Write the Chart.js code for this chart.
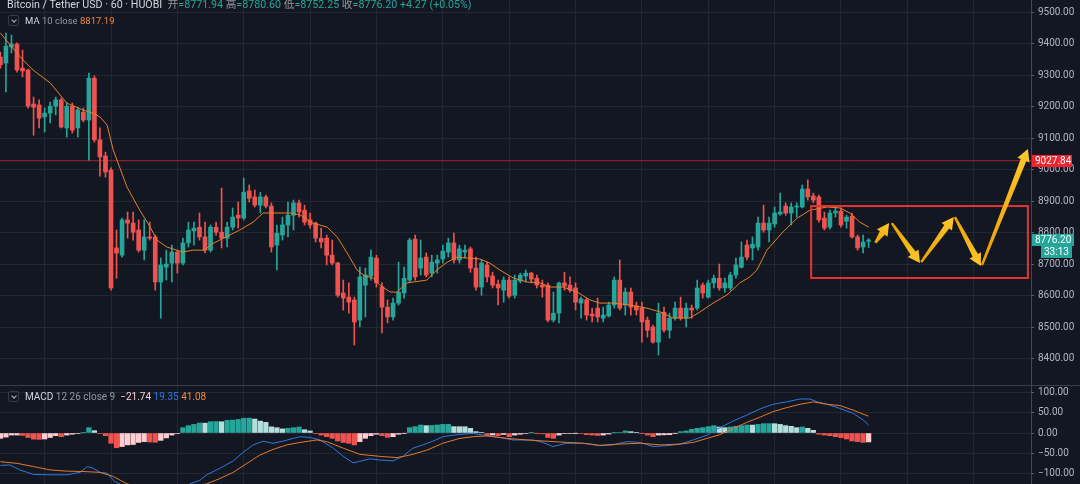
<!DOCTYPE html>
<html>
<head>
<meta charset="utf-8">
<script src="https://cdn.jsdelivr.net/npm/chart.js@4.4.0/dist/chart.umd.min.js"></script>
<style>
  html, body { margin: 0; padding: 0; background: #131722; }
  #wrap { position: relative; width: 1080px; height: 484px; overflow: hidden; background: #131722;
          font-family: Roboto, "Noto Sans", "Noto Sans CJK SC", sans-serif; }
  canvas { position: absolute; left: 0; }
  #main { top: 0; }
  #macd { top: 385px; }
  .row { position: absolute; white-space: nowrap; color: #d1d4dc; }
  .gray { color: #9598a1; }
  .teal { color: #26a69a; }
  .tog { position: absolute; width: 11px; height: 11px; border: 1px solid #363a45; border-radius: 2px; box-sizing: border-box; }
  .tog::after { content: ''; position: absolute; left: 3px; top: 1.5px; width: 3px; height: 3px;
                border-right: 1px solid #b2b5be; border-bottom: 1px solid #b2b5be; transform: rotate(45deg); }
</style>
</head>
<body>
<div id="wrap">
  <canvas id="main" width="1080" height="385"></canvas>
  <canvas id="macd" width="1080" height="99"></canvas>

  <div class="row" style="left:7px; top:-2px; font-size:10.7px; line-height:13px;">
    Bitcoin / Tether USD · 60 · HUOBI
    <span class="gray">&nbsp;开</span><span class="teal">=8771.94</span>
    <span class="gray">高</span><span class="teal">=8780.60</span>
    <span class="gray">低</span><span class="teal">=8752.25</span>
    <span class="gray">收</span><span class="teal">=8776.20 +4.27 (+0.05%)</span>
  </div>

  <div class="tog" style="left:8px; top:15px;"></div>
  <div class="row" style="left:25px; top:15px; font-size:9.5px; line-height:12px;">
    MA <span class="gray">10 close</span> <span style="color:#f0883e;">8817.19</span>
  </div>

  <div class="tog" style="left:8px; top:391px;"></div>
  <div class="row" style="left:25px; top:391px; font-size:10px; line-height:12px;">
    MACD <span class="gray">12 26 close 9</span>
    <span style="color:#ffcdd2;">&nbsp;−21.74</span>
    <span style="color:#2e79e0;">19.35</span>
    <span style="color:#f0883e;">41.08</span>
  </div>
</div>

<script>
// Bitcoin / Tether USD, 1h candles, HUOBI

const opens = [
    9357, 9338, 9389, 9398, 9322, 9316, 9208, 9205, 9167, 9179,
    9201, 9221, 9132, 9201, 9132, 9182, 9157, 9290, 9094, 9043,
    8998, 8751, 8728, 8840, 8830, 8808, 8744, 8786, 8786, 8643,
    8690, 8703, 8738, 8703, 8767, 8805, 8817, 8786, 8744, 8817,
    8801, 8782, 8817, 8855, 8846, 8932, 8913, 8887, 8913, 8884,
    8760, 8792, 8824, 8855, 8894, 8871, 8840, 8830, 8782, 8782,
    8728, 8703, 8608, 8595, 8586, 8522, 8633, 8662, 8719, 8627,
    8563, 8532, 8576, 8608, 8649, 8779, 8687, 8722, 8671, 8703,
    8716, 8738, 8767, 8713, 8738, 8748, 8687, 8627, 8697, 8662,
    8636, 8617, 8649, 8601, 8646, 8662, 8671, 8655, 8633, 8633,
    8522, 8544, 8640, 8633, 8624, 8576, 8586, 8541, 8560, 8528,
    8535, 8570, 8649, 8570, 8611, 8567, 8560, 8522, 8500, 8452,
    8547, 8490, 8528, 8560, 8528, 8560, 8560, 8633, 8595, 8640,
    8655, 8624, 8624, 8665, 8690, 8760, 8751, 8754, 8830, 8808,
    8827, 8859, 8884, 8862, 8881, 8881, 8938, 8916, 8913, 8846,
    8817, 8862, 8868, 8836, 8852, 8786, 8754, 8771.94
];
const highs = [
    9373, 9433, 9427, 9402, 9379, 9319, 9230, 9221, 9195, 9214,
    9230, 9227, 9211, 9211, 9198, 9195, 9306, 9297, 9132, 9055,
    9005, 8808, 8846, 8865, 8865, 8840, 8840, 8833, 8792, 8719,
    8744, 8760, 8744, 8782, 8833, 8833, 8862, 8833, 8824, 8833,
    8941, 8833, 8878, 8897, 8973, 8951, 8935, 8928, 8919, 8894,
    8824, 8849, 8897, 8903, 8903, 8887, 8862, 8833, 8814, 8792,
    8776, 8706, 8649, 8640, 8595, 8690, 8687, 8744, 8728, 8640,
    8586, 8592, 8706, 8690, 8782, 8792, 8776, 8735, 8728, 8728,
    8760, 8782, 8798, 8760, 8760, 8754, 8722, 8713, 8706, 8674,
    8649, 8659, 8659, 8665, 8671, 8681, 8674, 8665, 8649, 8640,
    8611, 8643, 8674, 8659, 8640, 8595, 8592, 8560, 8592, 8563,
    8579, 8659, 8713, 8624, 8624, 8579, 8579, 8532, 8506, 8576,
    8563, 8544, 8579, 8595, 8576, 8570, 8649, 8640, 8649, 8665,
    8700, 8655, 8674, 8719, 8770, 8776, 8786, 8849, 8887, 8849,
    8881, 8925, 8894, 8894, 8894, 8951, 8967, 8925, 8919, 8865,
    8871, 8881, 8878, 8855, 8862, 8792, 8792, 8780.60
];
const lows = [
    9322, 9246, 9370, 9309, 9294, 9195, 9109, 9132, 9119, 9148,
    9173, 9132, 9103, 9116, 9103, 9151, 9030, 9087, 8979, 8976,
    8617, 8655, 8722, 8782, 8776, 8738, 8713, 8776, 8617, 8528,
    8649, 8643, 8671, 8697, 8754, 8760, 8776, 8735, 8738, 8792,
    8751, 8754, 8808, 8814, 8840, 8897, 8881, 8862, 8878, 8738,
    8681, 8776, 8786, 8808, 8849, 8824, 8814, 8770, 8751, 8697,
    8697, 8595, 8554, 8544, 8443, 8500, 8532, 8649, 8627, 8481,
    8513, 8522, 8570, 8592, 8643, 8649, 8665, 8659, 8659, 8671,
    8703, 8722, 8703, 8703, 8719, 8674, 8617, 8601, 8643, 8624,
    8570, 8579, 8592, 8592, 8640, 8643, 8640, 8624, 8595, 8516,
    8516, 8513, 8617, 8611, 8554, 8528, 8522, 8516, 8516, 8516,
    8532, 8560, 8554, 8538, 8538, 8538, 8452, 8468, 8449, 8411,
    8484, 8465, 8522, 8522, 8500, 8528, 8554, 8592, 8592, 8624,
    8617, 8611, 8617, 8655, 8687, 8713, 8713, 8744, 8801, 8770,
    8817, 8855, 8855, 8824, 8849, 8878, 8903, 8894, 8833, 8808,
    8811, 8849, 8817, 8814, 8782, 8744, 8735, 8752.25
];
const closes = [
    9332, 9392, 9398, 9316, 9313, 9201, 9198, 9163, 9179, 9201,
    9221, 9135, 9201, 9125, 9189, 9157, 9290, 9094, 9040, 8992,
    8624, 8735, 8840, 8830, 8801, 8744, 8786, 8782, 8643, 8697,
    8700, 8738, 8703, 8767, 8808, 8814, 8786, 8744, 8817, 8801,
    8782, 8817, 8849, 8846, 8928, 8909, 8887, 8913, 8884, 8754,
    8798, 8824, 8855, 8894, 8865, 8833, 8824, 8782, 8770, 8728,
    8703, 8601, 8592, 8579, 8516, 8659, 8665, 8722, 8640, 8563,
    8532, 8576, 8611, 8655, 8776, 8659, 8719, 8665, 8706, 8713,
    8741, 8767, 8713, 8748, 8744, 8687, 8627, 8703, 8659, 8633,
    8624, 8649, 8598, 8649, 8665, 8671, 8652, 8633, 8627, 8522,
    8544, 8640, 8630, 8617, 8579, 8589, 8538, 8535, 8532, 8538,
    8570, 8649, 8560, 8611, 8563, 8554, 8516, 8490, 8452, 8544,
    8490, 8528, 8560, 8528, 8560, 8554, 8624, 8608, 8640, 8655,
    8624, 8640, 8665, 8697, 8722, 8722, 8763, 8830, 8808, 8830,
    8862, 8865, 8862, 8881, 8884, 8938, 8913, 8903, 8840, 8814,
    8862, 8868, 8824, 8849, 8786, 8751, 8770, 8776.20
];

// MA 10 close (bar index, value)
const maIdx = [0, 3.6, 5.9, 9, 12, 14.9, 16.7, 18, 19.3, 20.4, 22.9, 25.2, 27.1, 28.3, 30.1, 31.9, 33,
    34.8, 37, 37.9, 40.3, 43.3, 45.7, 47.5, 48.8, 52.4, 54.2, 56.5, 59.1, 60.9, 62.7, 64.5, 65.9, 67.4,
    68.6, 70.5, 71.7, 73.5, 75.9, 77.1, 78.9, 80.8, 82.6, 84.4, 86.7, 88.5, 90.3, 92.7, 95.2, 97.6, 99.4,
    101.7, 104.3, 106.6, 108.4, 110.8, 113.8, 116.9, 119.3, 121.6, 124.7, 126.5, 128.9, 131.4, 133.7,
    135.5, 136.8, 138.6, 141.5, 144.1, 146.4, 149.5, 151.8, 153.6, 155.4, 157];
const maVal = [9433, 9357, 9316, 9275, 9211, 9189, 9179, 9167, 9141, 9062, 8944, 8871, 8817, 8776, 8754, 8744, 8738,
    8744, 8744, 8760, 8782, 8808, 8833, 8862, 8862, 8862, 8856, 8830, 8817, 8786, 8735, 8681, 8662, 8656,
    8633, 8611, 8611, 8640, 8646, 8649, 8681, 8706, 8722, 8719, 8716, 8703, 8681, 8656, 8643, 8640, 8627,
    8627, 8611, 8586, 8576, 8576, 8570, 8560, 8548, 8529, 8529, 8548, 8576, 8602, 8640,
    8659, 8681, 8744, 8802, 8846, 8871, 8881, 8878, 8862, 8833, 8817.19];

// MACD 12 26 close 9
const histVals = [
    -13, -10, -5, -5, -6, -11, -15, -15.5, -14.6, -11,
    -6.5, -9, -5, -3, -1.5, 0.5, 13, 5.7, -1, -6.5,
    -25, -36, -33, -29, -28, -23, -21, -22, -22.5, -18,
    -12, -5, -1.5, 13, 18, 21, 24.4, 24, 27.6, 28,
    27.5, 31, 31.5, 33, 36, 36.2, 34, 29, 26, 15,
    13, 10, 11.5, 13, 14.6, 8, 5, -1.5, -5, -9,
    -13, -19.5, -23, -25, -29, -21, -13, -6.5, -3, -6.5,
    -10.5, -9, -3, -0.5, 13, 15.5, 19.5, 18, 18.2, 19.5,
    21, 21.2, 15.5, 15.4, 15.3, 11.4, 3.3, 1.5, -6, -5,
    -6.5, -3.5, -9, -5, -3, -1, 0.5, -0.5, -2, -11,
    -13, -5, -1.5, -1, -0.5, -1, -4, -5, -6, -5,
    -2.5, 0.5, 1, 5, 3.3, 1.6, -0.5, -5, -9, -5,
    -4.5, -4, -0.5, 3.3, 5, 9, 11.4, 13, 15.5, 18,
    14.6, 13, 14.7, 16.3, 18, 19.5, 19.3, 21, 22.8, 22.9,
    22.7, 21, 18, 16.3, 13, 14.6, 11.4, 6.5, -3, -5,
    -6.5, -9, -11.4, -14.6, -19.5, -21, -22.8, -21.74
];
const macdIdx = [0, 1.7, 3.5, 6, 9, 12, 14.4, 15.7, 16.8, 18, 19.3, 20.7, 21.6, 24, 28, 32, 34.3, 36.1, 37.3,
    39.7, 42.1, 44, 45.7, 47.5, 49.3, 51.1, 53, 54.2, 56, 57.8, 60.2, 62, 63.8, 65, 66.8, 68.6, 71, 72.8,
    74.6, 76.4, 78.2, 80, 82.6, 85.5, 88, 90.3, 92.7, 96.3, 98.1, 99.9, 102.4, 105.4, 108.4, 110.8, 113.3,
    115.7, 118, 120.5, 122.9, 125.3, 127.8, 130.1, 132.5, 135, 137.4, 139.7, 142.2, 144.6, 146.4, 147.7,
    149.5, 151.8, 154.2, 156, 157];
const macdVal = [-79, -78, -90, -101, -102, -102, -96, -82, -86, -96, -98, -119, -124, -145, -158, -140, -124, -115, -102,
    -86, -68, -46, -29, -20, -25, -20, -13, -9, -11, -17, -37, -57, -73, -69, -63, -66, -68, -57,
    -37, -29, -20, -9, -4, -1, -7, -11, -17, -17, -23, -33, -25, -25, -31, -29, -21,
    -23, -33, -31, -27, -17, -5, 13, 29, 44, 59, 70, 76, 83, 83, 76,
    70, 60, 48, 32, 19.35];
const signalIdx = [0, 3, 6, 9, 12, 15, 18, 20.4, 22.9, 27, 32, 37.3, 39.7, 42.1, 44.6, 46.9, 49.3, 51.8, 54.2,
    57.2, 59, 62, 65, 68.6, 71.7, 74, 77.1, 80, 83.1, 85.5, 88, 91.6, 95.2, 98.8, 102.4, 105.4, 108.4, 112,
    115.7, 119.3, 122.9, 125.3, 127.8, 130.1, 132.5, 135, 137.4, 139.7, 142.2, 144.6, 147, 149.5, 151.8,
    154.2, 156, 157];
const signalVal = [-70, -74, -82, -90, -93, -94, -96, -106, -124, -138, -140, -124, -111, -96, -74, -54, -40, -29, -23,
    -17, -21, -37, -52, -57, -60, -54, -42, -25, -13, -9, -7, -13, -17, -20, -23, -25, -30, -27,
    -25, -29, -27, -23, -13, -4, 11, 26, 39, 52, 62, 70, 76, 70, 67,
    56, 46, 41.08];

const priceTicks = [8400, 8500, 8600, 8700, 8800, 8900, 9000, 9100, 9200, 9300, 9400, 9500];
const macdTicks = [-100, -50, 0, 50, 100];

// drawings on the chart
const levelPrice = 9027.84;
const lastPrice = 8776.20;
const countdown = "33:13";
const boxIdx = [146.6, 185.8];
const boxPrice = [8655.6, 8884];
const arrowFrom = [[158.2, 8767], [161.2, 8830], [166.5, 8706], [172.6, 8849], [177.5, 8697]];
const arrowTo = [[160.7, 8830], [166.3, 8703], [172.4, 8849], [177.3, 8694], [185.8, 9065]];

// visible window
const X_MIN = -0.072, X_MAX = 186.36;
const P_MIN = 8316, P_MAX = 9538.1;
const M_MIN = -124.4, M_MAX = 117.1;

const UP = '#26a69a', DOWN = '#ef5350';
const GRID = '#232732';
const AXIS = '#434651';
const TICK = '#b2b5be';

Chart.defaults.animation = false;
Chart.defaults.font.family = 'Roboto, "Noto Sans", sans-serif';

const gridIdx = [];
for (let v = 8; v < X_MAX; v += 12) gridIdx.push(v);

const fmt = v => v.toFixed(2).replace('-', '\u2212');

function xScale() {
    return {
        type: 'linear', min: X_MIN, max: X_MAX, offset: false,
        grid: { color: GRID, drawTicks: false, offset: false },
        border: { display: false },
        ticks: { display: false },
        afterBuildTicks: s => { s.ticks = gridIdx.map(v => ({ value: v })); },
        afterFit: s => { s.height = 0; s.paddingLeft = 0; s.paddingRight = 0; }
    };
}

function yScale(min, max, ticks) {
    return {
        type: 'linear', position: 'right', min: min, max: max,
        grid: { color: GRID, tickLength: 3, tickColor: '#5d606b' },
        border: { color: AXIS },
        ticks: { color: TICK, font: { size: 10 }, padding: 4, callback: v => fmt(v) },
        afterBuildTicks: s => { s.ticks = ticks.map(v => ({ value: v })); },
        afterFit: s => { s.width = 49; s.paddingTop = 0; s.paddingBottom = 0; }
    };
}

function drawArrow(ctx, x0, y0, x1, y1) {
    const dx = x1 - x0, dy = y1 - y0;
    const len = Math.hypot(dx, dy);
    const ux = dx / len, uy = dy / len;
    const nx = -uy, ny = ux;
    const head = 12, neckW = 3, headW = 6.5, tailW = 1.2;
    const bx = x1 - ux * head, by = y1 - uy * head;
    const g = ctx.createLinearGradient(x0, y0, x1, y1);
    g.addColorStop(0, '#e9a000');
    g.addColorStop(1, '#ffc82e');
    ctx.fillStyle = g;
    ctx.beginPath();
    ctx.moveTo(x0 + nx * tailW, y0 + ny * tailW);
    ctx.lineTo(bx + nx * neckW, by + ny * neckW);
    ctx.lineTo(bx + nx * headW, by + ny * headW);
    ctx.lineTo(x1, y1);
    ctx.lineTo(bx - nx * headW, by - ny * headW);
    ctx.lineTo(bx - nx * neckW, by - ny * neckW);
    ctx.lineTo(x0 - nx * tailW, y0 - ny * tailW);
    ctx.closePath();
    ctx.fill();
}

function priceTag(ctx, x, yc, w, bg, text) {
    ctx.fillStyle = bg;
    ctx.fillRect(x, Math.round(yc - 6), w, 12);
    ctx.fillStyle = '#ffffff';
    ctx.font = '10px Roboto, sans-serif';
    ctx.textAlign = 'left';
    ctx.textBaseline = 'middle';
    ctx.fillText(text, x + 3, Math.round(yc) + 0.5);
}

const drawings = {
    id: 'drawings',
    afterDatasetsDraw(chart) {
        const { ctx, scales: { x, y } } = chart;
        ctx.save();
        // red box
        const bx0 = x.getPixelForValue(boxIdx[0]), bx1 = x.getPixelForValue(boxIdx[1]);
        const by0 = y.getPixelForValue(boxPrice[1]), by1 = y.getPixelForValue(boxPrice[0]);
        ctx.strokeStyle = '#e53430';
        ctx.lineWidth = 2;
        ctx.strokeRect(bx0, by0, bx1 - bx0, by1 - by0);
        // arrows
        arrowFrom.forEach((p, k) => {
            const q = arrowTo[k];
            drawArrow(ctx, x.getPixelForValue(p[0]), y.getPixelForValue(p[1]),
                x.getPixelForValue(q[0]), y.getPixelForValue(q[1]));
        });
        ctx.restore();
    },
    afterDraw(chart) {
        const { ctx, scales: { y } } = chart;
        const left = chart.chartArea.right + 1;
        ctx.save();
        priceTag(ctx, left, y.getPixelForValue(levelPrice), 40, '#f0232f', fmt(levelPrice));
        const yl = y.getPixelForValue(lastPrice);
        priceTag(ctx, left, yl, 42, '#26a69a', fmt(lastPrice));
        priceTag(ctx, left + 9, yl + 12, 31, '#26a69a', countdown);
        ctx.restore();
    }
};

const candleColor = c => closes[c.dataIndex] >= opens[c.dataIndex] ? UP : DOWN;
const bars = closes.map((c, i) => i);

new Chart(document.getElementById('main'), {
    type: 'bar',
    data: {
        datasets: [
            {
                type: 'line', label: 'MA 10',
                data: maIdx.map((v, k) => ({ x: v, y: maVal[k] })),
                borderColor: '#e5822c', borderWidth: 1, pointRadius: 0, order: 0
            },
            {
                type: 'bar', label: 'body',
                data: bars.map(i => ({ x: i, y: [opens[i], closes[i]] })),
                backgroundColor: candleColor, barThickness: 4, minBarLength: 1, grouped: false, order: 1
            },
            {
                type: 'bar', label: 'wick',
                data: bars.map(i => ({ x: i, y: [lows[i], highs[i]] })),
                backgroundColor: candleColor, barThickness: 1, grouped: false, order: 2
            },
            {
                type: 'line', label: 'level',
                data: [{ x: X_MIN, y: levelPrice }, { x: X_MAX, y: levelPrice }],
                borderColor: '#a8222f', borderWidth: 1, pointRadius: 0, order: 3
            }
        ]
    },
    options: {
        responsive: false,
        layout: { padding: 0 },
        plugins: { legend: { display: false }, tooltip: { enabled: false } },
        scales: { x: xScale(), y: yScale(P_MIN, P_MAX, priceTicks) }
    },
    plugins: [drawings]
});

const histColor = c => {
    const i = c.dataIndex, v = histVals[i], prev = i > 0 ? histVals[i - 1] : v;
    if (v >= 0) return v >= prev ? '#26a69a' : '#b2dfdb';
    return v < prev ? '#ef5350' : '#ffcdd2';
};

const separator = {
    id: 'separator',
    afterDraw(chart) {
        const ctx = chart.ctx;
        ctx.save();
        ctx.strokeStyle = '#3a3e4a';
        ctx.lineWidth = 1;
        ctx.beginPath();
        ctx.moveTo(0, 0.5);
        ctx.lineTo(chart.width, 0.5);
        ctx.stroke();
        ctx.restore();
    }
};

new Chart(document.getElementById('macd'), {
    type: 'bar',
    data: {
        datasets: [
            {
                type: 'line', label: 'Signal',
                data: signalIdx.map((v, k) => ({ x: v, y: signalVal[k] })),
                borderColor: '#e8782c', borderWidth: 1, pointRadius: 0, order: 0
            },
            {
                type: 'line', label: 'MACD',
                data: macdIdx.map((v, k) => ({ x: v, y: macdVal[k] })),
                borderColor: '#2e79e0', borderWidth: 1, pointRadius: 0, order: 1
            },
            {
                type: 'bar', label: 'Histogram',
                data: histVals.map((v, i) => ({ x: i, y: v })),
                backgroundColor: histColor, barThickness: 4.6, order: 2
            }
        ]
    },
    options: {
        responsive: false,
        layout: { padding: 0 },
        plugins: { legend: { display: false }, tooltip: { enabled: false } },
        scales: { x: xScale(), y: yScale(M_MIN, M_MAX, macdTicks) }
    },
    plugins: [separator]
});
</script>
</body>
</html>
